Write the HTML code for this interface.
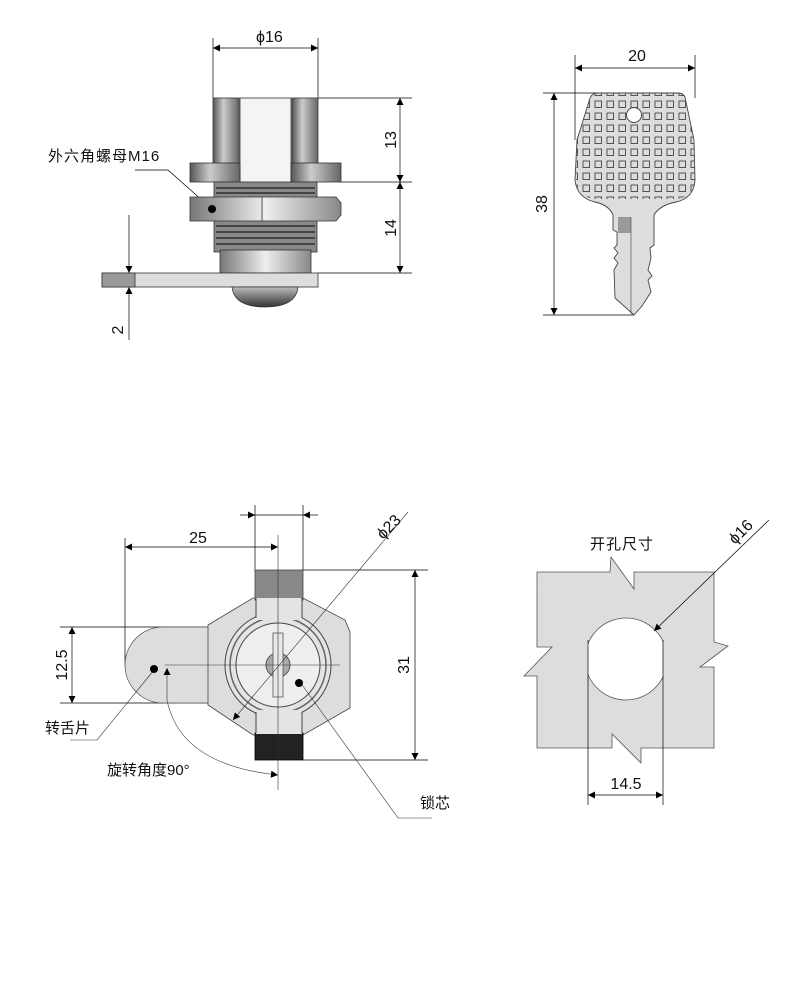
<!DOCTYPE html>
<html><head><meta charset="utf-8"><style>
html,body{margin:0;padding:0;background:#fff;}
svg{display:block;}
text{font-family:"Liberation Sans","Noto Sans CJK SC",sans-serif;fill:#111;}
</style></head><body>
<svg width="788" height="1000" viewBox="0 0 788 1000" xmlns="http://www.w3.org/2000/svg">
<defs>
<marker id="a" viewBox="0 0 10 10" refX="10" refY="5" markerWidth="16" markerHeight="7" orient="auto-start-reverse" markerUnits="userSpaceOnUse"><path d="M0,0L10,5L0,10z" fill="#000"/></marker>
<linearGradient id="cyl" x1="0" x2="1"><stop offset="0" stop-color="#555"/><stop offset="0.4" stop-color="#ccc"/><stop offset="1" stop-color="#666"/></linearGradient>
<linearGradient id="cylL" x1="0" x2="1"><stop offset="0" stop-color="#777"/><stop offset="0.5" stop-color="#eee"/><stop offset="1" stop-color="#888"/></linearGradient>
<linearGradient id="dome" x1="0" y1="0" x2="0" y2="1"><stop offset="0" stop-color="#bbb"/><stop offset="1" stop-color="#333"/></linearGradient>
<pattern id="grid" x="580" y="98" width="12" height="12" patternUnits="userSpaceOnUse"><rect x="3" y="3" width="6.5" height="6.5" fill="none" stroke="#444" stroke-width="0.9"/></pattern>
<clipPath id="hole"><rect x="588" y="600" width="75" height="120"/></clipPath>
</defs>

<!-- ========== TOP LEFT ========== -->
<g stroke="#000" stroke-width="0.7" fill="none">
<line x1="213" y1="38" x2="213" y2="98"/><line x1="318" y1="38" x2="318" y2="98"/>
<line x1="213" y1="48" x2="318" y2="48" marker-start="url(#a)" marker-end="url(#a)"/>
<line x1="318" y1="98" x2="412" y2="98"/><line x1="340" y1="182" x2="412" y2="182"/><line x1="318" y1="273" x2="412" y2="273"/>
<line x1="400" y1="98" x2="400" y2="182" marker-start="url(#a)" marker-end="url(#a)"/>
<line x1="400" y1="182" x2="400" y2="273" marker-start="url(#a)" marker-end="url(#a)"/>
<line x1="129" y1="215" x2="129" y2="273" marker-end="url(#a)"/>
<line x1="129" y1="340" x2="129" y2="287" marker-end="url(#a)"/>
<polyline points="135,170 168,170 212,209"/>
</g>
<text x="256" y="42" font-size="16">ϕ16</text>
<text transform="translate(396,140) rotate(-90)" font-size="16" text-anchor="middle">13</text>
<text transform="translate(396,228) rotate(-90)" font-size="16" text-anchor="middle">14</text>
<text transform="translate(123,330) rotate(-90)" font-size="16" text-anchor="middle">2</text>
<text x="48" y="161" font-size="15" letter-spacing="1">外六角螺母M16</text>

<!-- lock side view -->
<g stroke="#333" stroke-width="0.8">
<rect x="213" y="98" width="26" height="66" fill="url(#cyl)"/>
<rect x="292" y="98" width="26" height="66" fill="url(#cyl)"/>
<rect x="240" y="98" width="51" height="86" fill="#f4f4f4"/>
<rect x="190" y="163" width="50" height="19" fill="url(#cyl)"/>
<rect x="291" y="163" width="50" height="19" fill="url(#cyl)"/>
<rect x="214" y="182" width="103" height="70" fill="#888"/>
</g>
<g stroke="#444" stroke-width="2">
<line x1="216" y1="188" x2="315" y2="188"/><line x1="216" y1="193" x2="315" y2="193"/>
<line x1="216" y1="226" x2="315" y2="226"/><line x1="216" y1="232" x2="315" y2="232"/><line x1="216" y1="238" x2="315" y2="238"/><line x1="216" y1="244" x2="315" y2="244"/>
</g>
<g stroke="#333" stroke-width="0.8">
<polygon points="190,197 336,197 341,203 341,215 336,221 190,221" fill="url(#cylL)"/>
<line x1="262" y1="197" x2="262" y2="221"/>
<rect x="220" y="250" width="91" height="23" fill="url(#cylL)"/>
<rect x="102" y="273" width="216" height="14" fill="#ddd"/>
<rect x="102" y="273" width="33" height="14" fill="#999"/>
<path d="M232,287 Q234,307 265,307 Q296,307 298,287z" fill="url(#dome)"/>
</g>
<circle cx="212" cy="209" r="4" fill="#000"/>

<!-- ========== KEY ========== -->
<g stroke="#000" stroke-width="0.7" fill="none">
<line x1="575" y1="55" x2="575" y2="140"/><line x1="695" y1="55" x2="695" y2="98"/>
<line x1="575" y1="68" x2="695" y2="68" marker-start="url(#a)" marker-end="url(#a)"/>
<line x1="543" y1="93" x2="600" y2="93"/><line x1="543" y1="315" x2="634" y2="315"/>
<line x1="554" y1="93" x2="554" y2="315" marker-start="url(#a)" marker-end="url(#a)"/>
</g>
<text x="637" y="61" font-size="16" text-anchor="middle">20</text>
<text transform="translate(547,204) rotate(-90)" font-size="16" text-anchor="middle">38</text>
<path d="M613,215 L613,230 L617,232 L617,245 L614,248 L618,253 L614,258 L618,263 L614,270 L615,298 L634,315 L642,306 L651,292 L648,280 L652,276 L648,270 L651,258 L650,248 L654,245 L654,215 Q660,205 676,202 Q694,198 695,180 L694,140 L685,97 Q683,93 678,93 L598,93 Q592,93 590,98 L577,140 L575,180 Q577,198 595,202 Q609,205 613,215z" fill="#ddd" stroke="#444" stroke-width="0.9"/>
<path d="M590,98 Q592,93 598,93 L678,93 Q683,93 685,97 L694,140 L695,180 Q694,197 676,199 L595,199 Q577,197 576,180 L577,140z" fill="url(#grid)" stroke="none"/>
<rect x="618" y="217" width="13" height="16" fill="#999"/>
<line x1="631" y1="217" x2="631" y2="314" stroke="#555" stroke-width="0.7"/>
<circle cx="634" cy="115" r="7.5" fill="#fff" stroke="#444"/>

<!-- ========== BOTTOM LEFT ========== -->
<g stroke="#000" stroke-width="0.7" fill="none">
<line x1="255" y1="505" x2="255" y2="570"/><line x1="303" y1="505" x2="303" y2="570"/>
<line x1="240" y1="515" x2="255" y2="515" marker-end="url(#a)"/><line x1="318" y1="515" x2="303" y2="515" marker-end="url(#a)"/>
<line x1="255" y1="515" x2="303" y2="515"/>
<line x1="125" y1="538" x2="125" y2="665"/>
<line x1="125" y1="547" x2="278" y2="547" marker-start="url(#a)" marker-end="url(#a)"/>
<line x1="303" y1="570" x2="428" y2="570"/><line x1="303" y1="760" x2="428" y2="760"/>
<line x1="415" y1="570" x2="415" y2="760" marker-start="url(#a)" marker-end="url(#a)"/>
<line x1="60" y1="627" x2="210" y2="627"/><line x1="60" y1="703" x2="210" y2="703"/>
<line x1="72" y1="627" x2="72" y2="703" marker-start="url(#a)" marker-end="url(#a)"/>
</g>
<text x="198" y="543" font-size="16" text-anchor="middle">25</text>
<text transform="translate(409,665) rotate(-90)" font-size="16" text-anchor="middle">31</text>
<text transform="translate(67,665) rotate(-90)" font-size="16" text-anchor="middle">12.5</text>

<!-- tongue -->
<path d="M210,627 L163,627 A38,38 0 0 0 163,703 L210,703z" fill="#ddd" stroke="#555" stroke-width="0.8"/>
<!-- body -->
<polygon points="208,625 253,598 303,598 345,620 350,632 350,708 303,735 253,735 208,705" fill="#ddd" stroke="#444" stroke-width="0.8"/>
<rect x="255" y="570" width="48" height="30" fill="#888" stroke="#444" stroke-width="0.8"/>
<rect x="255" y="733" width="48" height="27" fill="#222" stroke="#000" stroke-width="0.8"/>
<circle cx="278" cy="665" r="53" fill="#e4e4e4" stroke="#444" stroke-width="1"/>
<circle cx="278" cy="665" r="48" fill="none" stroke="#666" stroke-width="1.5"/>
<circle cx="278" cy="665" r="42" fill="#eee" stroke="#444" stroke-width="1"/>
<rect x="256" y="598" width="46" height="22" fill="#e4e4e4"/>
<rect x="256" y="710" width="46" height="24" fill="#e4e4e4"/>
<line x1="256" y1="598" x2="256" y2="618" stroke="#444"/><line x1="302" y1="598" x2="302" y2="618" stroke="#444"/>
<line x1="256" y1="712" x2="256" y2="733" stroke="#444"/><line x1="302" y1="712" x2="302" y2="733" stroke="#444"/>
<circle cx="278" cy="665" r="12" fill="#aaa" stroke="#555"/>
<rect x="273" y="633" width="10" height="64" fill="#e8e8e8" stroke="#555" stroke-width="0.8"/>
<g stroke="#333" stroke-width="0.6" fill="none">
<line x1="165" y1="665" x2="340" y2="665"/>
<line x1="278" y1="535" x2="278" y2="790"/>
<line x1="408" y1="512" x2="233" y2="720" marker-end="url(#a)"/>
<polyline points="154,670 97,740 70,740"/>
<polyline points="300,682 398,818 432,818"/>
<line x1="167" y1="700" x2="167" y2="668" marker-end="url(#a)"/>
<path d="M167,700 Q180,765 278,775" marker-end="url(#a)"/>
</g>
<circle cx="154" cy="669" r="4" fill="#000"/>
<circle cx="299" cy="683" r="4" fill="#000"/>
<text transform="translate(383,540) rotate(-45)" font-size="16">ϕ23</text>
<text x="45" y="733" font-size="15">转舌片</text>
<text x="107" y="775" font-size="15">旋转角度90°</text>
<text x="420" y="808" font-size="15">锁芯</text>

<!-- ========== BOTTOM RIGHT ========== -->
<path d="M537,572 L610,572 L611,557 L634,589 L634,572 L714,572 L714,642 L728,646 L700,667 L714,667 L714,748 L641,748 L641,763 L612,734 L612,748 L537,748 L537,676 L524,676 L552,647 L537,647z" fill="#ddd" stroke="#555" stroke-width="0.8"/>
<g clip-path="url(#hole)"><circle cx="626" cy="659" r="41" fill="#fff" stroke="#555" stroke-width="0.8"/></g>
<g stroke="#000" stroke-width="0.7" fill="none">
<line x1="588" y1="640" x2="588" y2="805"/><line x1="663" y1="640" x2="663" y2="805"/>
<line x1="588" y1="795" x2="663" y2="795" marker-start="url(#a)" marker-end="url(#a)"/>
<line x1="769" y1="520" x2="654" y2="631" marker-end="url(#a)"/>
</g>
<text x="626" y="789" font-size="16" text-anchor="middle">14.5</text>
<text transform="translate(735,545) rotate(-45)" font-size="16">ϕ16</text>
<text x="590" y="549" font-size="15" letter-spacing="1">开孔尺寸</text>
</svg>
</body></html>
